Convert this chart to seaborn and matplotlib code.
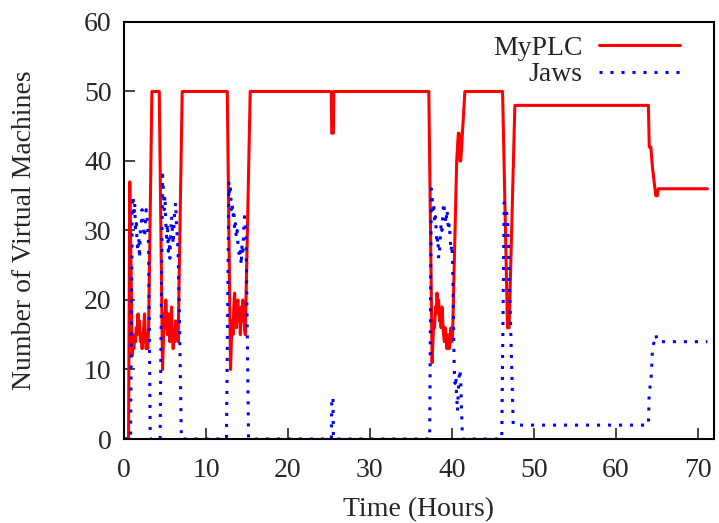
import matplotlib
matplotlib.use("Agg")
import matplotlib.pyplot as plt
import seaborn as sns
import pandas as pd

# MyPLC: time (hours) and number of VMs
myplc_t = [
    0.0, 0.55, 0.7, 0.85,
    1.0, 1.1, 1.2, 1.3, 1.4, 1.5, 1.6, 1.7, 1.8, 1.9,
    2.0, 2.1, 2.2, 2.3, 2.4, 2.5, 2.6, 2.7, 2.8, 2.9, 3.0,
    3.4, 4.3,
    4.7, 4.8, 4.9, 5.0, 5.1, 5.2, 5.3, 5.4, 5.5, 5.6,
    5.7, 5.8, 5.9, 6.0, 6.1, 6.2, 6.3, 6.4, 6.5, 6.6,
    7.1, 12.6,
    13.0, 13.1, 13.2, 13.3, 13.4, 13.5, 13.6, 13.7, 13.8, 13.9,
    14.0, 14.1, 14.2, 14.3, 14.4, 14.5, 14.6, 14.7, 14.8,
    15.4, 25.3, 25.35, 25.55, 25.6, 37.2,
    37.6, 37.7, 37.8, 37.9, 38.0, 38.1, 38.2, 38.3, 38.4, 38.5,
    38.6, 38.7, 38.8, 38.9, 39.0, 39.1, 39.2, 39.3, 39.4, 39.5,
    39.6, 39.7, 39.8, 39.9, 40.0, 40.1,
    40.6, 40.8, 40.9, 41.0, 41.1, 41.6, 46.2, 46.8, 47.0, 47.7,
    64.0, 64.1, 64.3, 64.5, 64.7, 64.9, 65.1, 65.2, 71.2,
]
myplc_v = [
    0, 0, 37, 25,
    12, 14, 13, 15, 14, 16, 15, 18, 16, 17,
    14, 15, 13, 14, 16, 18, 15, 13, 14, 13, 16,
    50, 50,
    10, 14, 18, 16, 20, 17, 15, 18, 16, 14,
    17, 19, 15, 13, 15, 14, 17, 15, 16, 14,
    50, 50,
    10, 14, 17, 15, 19, 21, 18, 16, 19, 20,
    17, 18, 15, 19, 17, 20, 18, 16, 15,
    50, 50, 44, 44, 50, 50,
    11, 14, 17, 16, 19, 18, 21, 19, 20, 17,
    18, 16, 19, 17, 15, 14, 16, 15, 13, 14,
    15, 13, 14, 16, 14, 15,
    40, 44, 44, 40, 40, 50, 50, 16, 16, 48,
    48, 42, 42, 39, 37, 35, 35, 36, 36,
]

# Jaws
jaws_t = [
    0.0, 0.8,
    1.0, 1.1, 1.2, 1.3, 1.4, 1.5, 1.6, 1.7, 1.8, 1.9,
    2.0, 2.1, 2.2, 2.3, 2.4, 2.5, 2.6, 2.7, 2.8, 2.9, 3.0,
    3.2, 4.4,
    4.7, 4.8, 4.9, 5.0, 5.1, 5.2, 5.3, 5.4, 5.5, 5.6,
    5.7, 5.8, 5.9, 6.0, 6.1, 6.2, 6.3, 6.4, 6.5, 6.6,
    6.8, 7.0, 12.5,
    12.8, 12.9, 13.0, 13.1, 13.2, 13.3, 13.4, 13.5, 13.6, 13.7,
    13.8, 13.9, 14.0, 14.1, 14.2, 14.3, 14.4, 14.5, 14.6, 14.7,
    14.8, 14.9,
    15.2, 25.3, 25.35, 25.5, 25.55, 37.3,
    37.5, 37.6, 37.7, 37.8, 37.9, 38.0, 38.1, 38.2, 38.3, 38.4,
    38.5, 38.6, 38.7, 38.8, 38.9, 39.0, 39.1, 39.2, 39.3, 39.4,
    39.5, 39.6, 39.7, 39.8, 39.9, 40.0, 40.1,
    40.2, 40.3, 40.4, 40.5, 40.6, 40.7, 40.8, 40.9, 41.0, 41.1,
    41.3, 46.1, 46.4, 46.8, 47.1, 47.5,
    64.0, 64.1, 64.3, 64.5, 64.7, 64.9, 65.1, 71.2,
]
jaws_v = [
    0, 0,
    33, 35, 32, 34, 30, 31, 28, 27, 29, 26,
    30, 31, 33, 32, 30, 29, 31, 33, 32, 30, 28,
    0, 0,
    38, 36, 33, 35, 31, 29, 31, 27, 29, 26,
    30, 32, 30, 28, 31, 33, 34, 31, 29, 27,
    15, 0, 0,
    37, 35, 36, 33, 34, 32, 33, 30, 31, 29,
    30, 28, 27, 26, 27, 25, 28, 27, 30, 32,
    31, 29,
    0, 0, 6, 6, 0, 0,
    36, 35, 33, 34, 31, 32, 30, 28, 29, 26,
    27, 29, 31, 30, 32, 34, 33, 32, 31, 33,
    32, 30, 31, 29, 27, 28, 26,
    18, 10, 8, 9, 6, 4, 7, 9, 10, 8,
    0, 0, 34, 32, 20, 2,
    2, 7, 8, 13, 14, 15, 14, 14,
]

df = pd.concat([
    pd.DataFrame({'time': myplc_t, 'vms': myplc_v, 'system': 'MyPLC'}),
    pd.DataFrame({'time': jaws_t, 'vms': jaws_v, 'system': 'Jaws'}),
])

sns.set_style('ticks')
plt.rcParams['font.family'] = ['Liberation Serif', 'DejaVu Serif']
plt.rcParams['font.size'] = 20

fig = plt.figure(figsize=(7.19, 5.23), dpi=100)
ax = fig.add_axes([0.1725, 0.1606, 0.8205, 0.7974])

sns.lineplot(data=df, x='time', y='vms', hue='system', style='system',
             palette={'MyPLC': '#ff0000', 'Jaws': '#0000ff'},
             dashes={'MyPLC': '', 'Jaws': (1, 2.6)},
             estimator=None, sort=False, linewidth=2.2, ax=ax)

ax.set_xlim(0, 72)
ax.set_ylim(0, 60)
ax.set_xticks(range(0, 71, 10))
ax.set_yticks(range(0, 61, 10))
ax.set_xlabel('Time (Hours)', fontsize=20, labelpad=10)
ax.set_ylabel('Number of Virtual Machines', fontsize=20, labelpad=34)
ax.tick_params(direction='in', length=8, width=1.2, labelsize=20)
ax.tick_params(axis='x', pad=14)
ax.tick_params(axis='y', pad=9)
for s in ax.spines.values():
    s.set_linewidth(1.5)
    s.set_color('black')

ax.legend(title=None, frameon=False, markerfirst=False, loc='upper right',
          bbox_to_anchor=(0.9605, 0.995), borderaxespad=0,
          fontsize=20, handlelength=2.9, handletextpad=0.6, labelspacing=0.05)

fig.savefig('out.png', dpi=100)
